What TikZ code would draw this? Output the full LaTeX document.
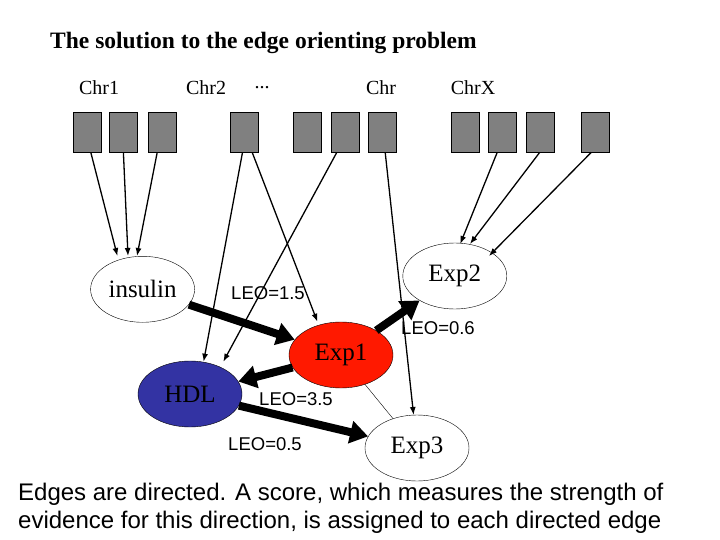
\documentclass[tikz,border=0pt]{standalone}
\usepackage{fontspec}
\setmainfont{Liberation Serif}
\newfontfamily\arialf{Liberation Sans}
\begin{document}
\begin{tikzpicture}[x=1pt,y=-1pt,
  box/.style={draw,fill=gray,minimum width=28pt,minimum height=40pt,anchor=north west,inner sep=0pt},
  ell/.style={draw,ellipse,minimum width=104pt,minimum height=66pt,inner sep=0pt,font=\fontsize{25}{28}\selectfont},
  thin/.style={line width=1.3pt,arrows={-Latex[length=8pt,width=6pt]}},
  thick/.style={line width=8pt,arrows={-Triangle[length=18pt,width=22pt]}},
  leo/.style={font=\arialf\fontsize{18.5}{20}\selectfont,inner sep=0pt},
  chr/.style={font=\fontsize{20}{22}\selectfont,inner sep=0pt}]
\usetikzlibrary{shapes.geometric,arrows.meta}
\useasboundingbox (0,0) rectangle (720,540);
\node[anchor=west,font=\bfseries\fontsize{23.5}{26}\selectfont,inner sep=0pt] (title) at (50,43) {The solution to the edge orienting problem};
\node[chr] (c1) at (99,88) {Chr1};
\node[chr] (c2) at (206,88) {Chr2};
\node[chr] (c3) at (262,88) {...};
\node[chr] (c4) at (381,88) {Chr};
\node[chr] (c5) at (473,88) {ChrX};
\foreach \n/\x in {1/72.6,2/109.2,3/148,4/230,5/292.6,6/330.6,7/368,8/450.5,9/488,10/525.5,11/581}
  \node[box] (b\n) at (\x,112) {};
\node[ell] (ins) at (142.6,289.3) {insulin};
\node[ell] (e2) at (454.8,276) {Exp2};
\node[ell,fill=red!80!orange] (e1) at (341,355) {Exp1};
\node[ell,fill=blue!55!black!80] (hdl) at (190,394) {HDL};
\node[ell] (e3) at (417,448) {Exp3};
\coordinate (p1) at (117.4,256); \coordinate (p2) at (128,256); \coordinate (p3) at (137,256);
\draw[thin] (b1.south) ++(4,0) -- (p1);
\draw[thin] (b2.south) -- (p2);
\draw[thin] (b3.south) ++(-5,0) -- (p3);
\coordinate (h1) at (203.6,361.7); \coordinate (h2) at (223.3,361.7);
\coordinate (x1) at (317.4,321.7); \coordinate (x3) at (413.6,415);
\coordinate (q1) at (460.2,244); \coordinate (q2) at (470,244); \coordinate (q3) at (489,256);
\draw[thin] (b4.south) ++(-1.7,0) -- (h1);
\draw[thin] (b4.south) ++(8,0) -- (x1);
\draw[thin] (b6.south) ++(-8,0) -- (h2);
\draw[thin] (b7.south) ++(3,0) -- (x3);
\draw[thin] (b9.south) ++(-5,0) -- (q1);
\draw[thin] (b10.south) ++(0,0) -- (q2);
\draw[thin] (b11.south) ++(-4,0) -- (q3);
\draw[thick] (ins) -- (e1);
\draw[thick] (e1) -- (e2);
\draw[thick] (e1) -- (hdl);
\draw[thick] (hdl) -- (e3);
\draw[line width=0.4pt] (e1) -- (e3);
\node[leo] (l1) at (268,292.7) {LEO=1.5};
\node[leo] (l2) at (438,328) {LEO=0.6};
\node[leo] (l3) at (296,399) {LEO=3.5};
\node[leo] (l4) at (265,444) {LEO=0.5};
\node[anchor=west,font=\arialf\fontsize{24}{28}\selectfont,inner sep=0pt,align=left] (bt) at (18,508) {Edges are directed. A score, which measures the strength of\\evidence for this direction, is assigned to each directed edge};
\end{tikzpicture}
\end{document}
